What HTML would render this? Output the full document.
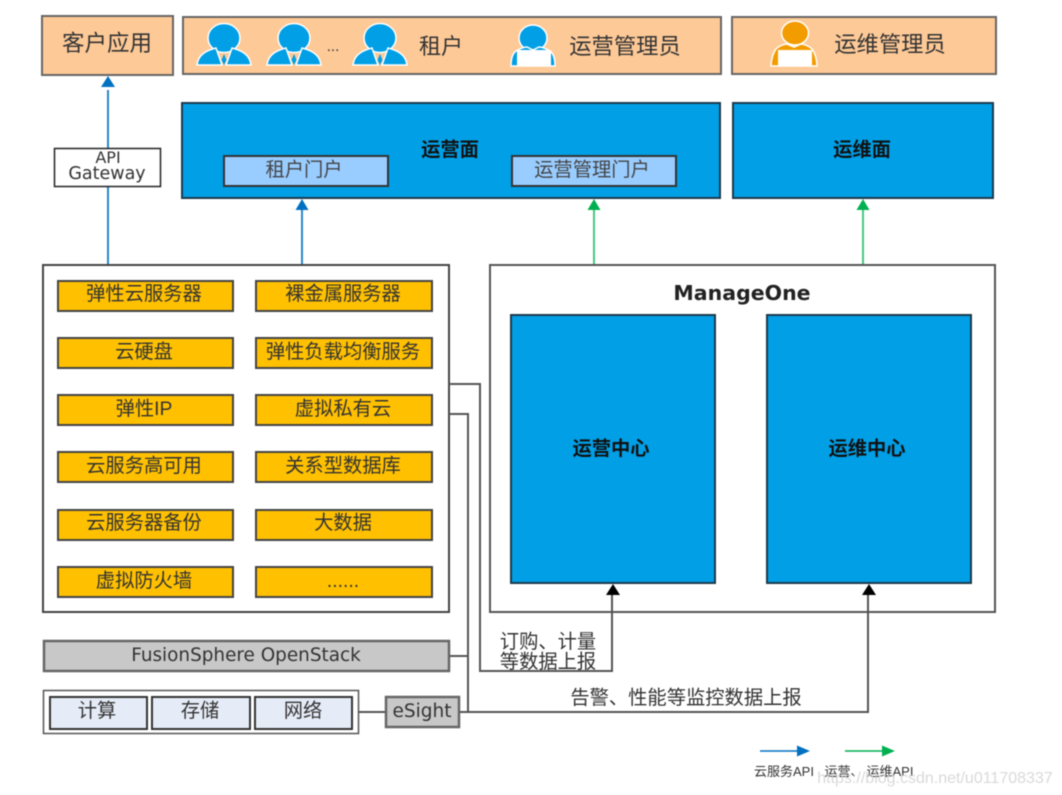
<!DOCTYPE html>
<html><head><meta charset="utf-8"><style>
html,body{margin:0;padding:0;background:#fff;width:1062px;height:795px;overflow:hidden}
svg{display:block;filter:blur(.5px)}
text{font-family:"Liberation Sans","Noto Sans CJK SC",sans-serif;fill:#333;text-anchor:middle}
.d{font-family:"DejaVu Sans","Noto Sans CJK SC",sans-serif}
.o{fill:#ffc000;stroke:#444;stroke-width:2}
.l{fill:none;stroke:#555;stroke-width:2}
.p{fill:#fdc997;stroke:#666;stroke-width:2}
.b{fill:#009fe6;stroke:#1c3a4e;stroke-width:2}
.i{fill:#99ccff;stroke:#333;stroke-width:2}
.e{fill:#e6ecf7;stroke:#333;stroke-width:2}
.g{fill:#c8c8c8;stroke:#666;stroke-width:2.5}
.t{font-size:19.300px}
.m{font-size:19.300px;font-weight:bold;fill:#111}
</style></head><body>
<svg width="1062" height="795" viewBox="0 0 1062 795" xmlns="http://www.w3.org/2000/svg">
<defs>
<g id="u">
<ellipse cx="0" cy="13" rx="16" ry="14.500" fill="#009fe6" stroke="#fff" stroke-width="1.500"/>
<path d="M-27 40C-26 31-20 26-8 23L-2 40ZM27 40C26 31 20 26 8 23L2 40Z" fill="#009fe6" stroke="#fff" stroke-width="1.500"/>
<path d="M0 29l2.500 6-2.500 5-2.500-5z" fill="#009fe6"/>
</g>
</defs>

<rect class="p" x="42" y="16" width="131" height="59"/>
<text x="107" y="51" font-size="22.500">客户应用</text>
<rect class="p" x="183" y="17" width="538" height="57"/>
<rect class="p" x="732" y="17" width="264" height="57"/>
<use href="#u" x="224" y="25"/>
<use href="#u" x="294" y="25"/>
<text x="333" y="51" font-size="15">...</text>
<use href="#u" x="380" y="25"/>
<text x="441" y="54" font-size="22">租户</text>

<ellipse cx="533" cy="38" rx="14" ry="13" fill="#009fe6" stroke="#fff" stroke-width="1.500"/>
<path d="M511 66c0-5 1-12 5-15 5-3 9-4 11-4l6 3 6-3c2 0 6 1 11 4 4 3 5 10 5 15z" fill="#009fe6" stroke="#fff" stroke-width="1.500"/>
<rect x="517" y="50" width="34" height="16" fill="#fff"/>
<text x="625" y="54" font-size="22.300">运营管理员</text>

<ellipse cx="795" cy="33" rx="13.500" ry="12" fill="#f39c00" stroke="#fff" stroke-width="1.500"/>
<path d="M771 66c0-6 2-13 5-17 3-3 8-5 11-5l7 3 7-3c3 0 8 2 11 5 3 4 5 11 5 17z" fill="#f39c00" stroke="#fff" stroke-width="1.500"/>
<rect x="778" y="50" width="34" height="16" fill="#fff"/>
<text x="890" y="52" font-size="22.300">运维管理员</text>

<rect class="b" x="182" y="103" width="538" height="95"/>
<rect class="b" x="733" y="103" width="260" height="95"/>
<text x="450" y="156" class="m">运营面</text>
<text x="862" y="156" class="m">运维面</text>
<rect class="i" x="224" y="156" width="164" height="30"/>
<rect class="i" x="512" y="156" width="164" height="30"/>
<text x="304" y="176" class="t" style="fill:#444">租户门户</text>
<text x="592" y="176" class="t" style="fill:#444">运营管理门户</text>

<!-- arrows -->
<path d="M108 266V90M302 266V208" stroke="#2a86c8" stroke-width="2" fill="none"/>
<path d="M108 76l-7 11h14zM302 199l-6.500 11h13z" fill="#0070c0"/>
<path d="M594 266V208M863 266V208" stroke="#45c880" stroke-width="2" fill="none"/>
<path d="M594 199l-6.500 11h13zM863 199l-6.500 11h13z" fill="#00b050"/>

<rect x="54.500" y="148.500" width="106" height="38" fill="#fff" stroke="#222" stroke-width="1.500"/>
<text x="108" y="163" class="d" font-size="16">API</text>
<text x="107" y="179" class="d" font-size="17.500">Gateway</text>

<rect x="43" y="265" width="406" height="347" fill="#fff" stroke="#444" stroke-width="2"/>
<rect class="o" x="58" y="281" width="175" height="30"/><rect class="o" x="256" y="281" width="176" height="30"/>
<rect class="o" x="58" y="338" width="175" height="30"/><rect class="o" x="256" y="338" width="176" height="30"/>
<rect class="o" x="58" y="395" width="175" height="30"/><rect class="o" x="256" y="395" width="176" height="30"/>
<rect class="o" x="58" y="452" width="175" height="30"/><rect class="o" x="256" y="452" width="176" height="30"/>
<rect class="o" x="58" y="510" width="175" height="30"/><rect class="o" x="256" y="510" width="176" height="30"/>
<rect class="o" x="58" y="567" width="175" height="30"/><rect class="o" x="256" y="567" width="176" height="30"/>
<text x="144" y="300" class="t">弹性云服务器</text><text x="343" y="300" class="t">裸金属服务器</text>
<text x="144" y="358" class="t">云硬盘</text><text x="343" y="358" class="t">弹性负载均衡服务</text>
<text x="144" y="415" class="t">弹性IP</text><text x="343" y="415" class="t">虚拟私有云</text>
<text x="144" y="472" class="t">云服务高可用</text><text x="343" y="472" class="t">关系型数据库</text>
<text x="144" y="529" class="t">云服务器备份</text><text x="343" y="529" class="t">大数据</text>
<text x="144" y="587" class="t">虚拟防火墙</text><text x="343" y="587" class="t">......</text>

<rect x="490" y="265" width="505" height="347" fill="#fff" stroke="#555" stroke-width="2"/>
<text x="742" y="300" class="d" font-size="20.500" font-weight="bold" style="fill:#222">ManageOne</text>
<rect class="b" x="511" y="315" width="204" height="268"/>
<rect class="b" x="767" y="315" width="204" height="268"/>
<text x="611" y="455" class="m">运营中心</text>
<text x="867" y="455" class="m">运维中心</text>

<path class="l" d="M449 384H480V671H612V594"/>
<path class="l" d="M449 414H468V712M449 656H468M358 712H386M459 712H868V594"/>
<path d="M613 584l-7 11h14zM869 584l-7 11h14z" fill="#000"/>

<rect class="g" x="44" y="641" width="405" height="30"/>
<text x="246" y="661" class="d" font-size="18.400">FusionSphere OpenStack</text>
<rect x="43.500" y="690.500" width="315" height="43" fill="#fff" stroke="#555" stroke-width="1.500"/>
<rect class="e" x="50" y="697" width="97" height="32"/>
<rect class="e" x="152" y="697" width="98" height="32"/>
<rect class="e" x="255" y="697" width="97" height="32"/>
<text x="97" y="717" class="t">计算</text><text x="200" y="717" class="t">存储</text><text x="303" y="717" class="t">网络</text>
<rect class="g" x="386" y="697" width="73" height="30"/>
<text x="422" y="717" class="d" font-size="18.500">eSight</text>

<text x="548" y="648" class="t">订购、计量</text>
<text x="548" y="668" class="t">等数据上报</text>
<text x="686" y="704" class="t">告警、性能等监控数据上报</text>

<path d="M760 751H797" stroke="#0070c0" stroke-width="1.500"/>
<path d="M810 751l-13-5.500v11z" fill="#0070c0"/>
<path d="M845 751H882" stroke="#00b050" stroke-width="1.500"/>
<path d="M895 751l-13-5.500v11z" fill="#00b050"/>
<text x="784" y="776" font-size="13">云服务API</text>
<text x="844" y="776" font-size="13">运营、</text>
<text x="890" y="776" font-size="13">运维API</text>
<text x="935" y="783" font-size="16" style="fill:#ccc;fill-opacity:.75">https://blog.csdn.net/u011708337</text>
</svg>
</body></html>
